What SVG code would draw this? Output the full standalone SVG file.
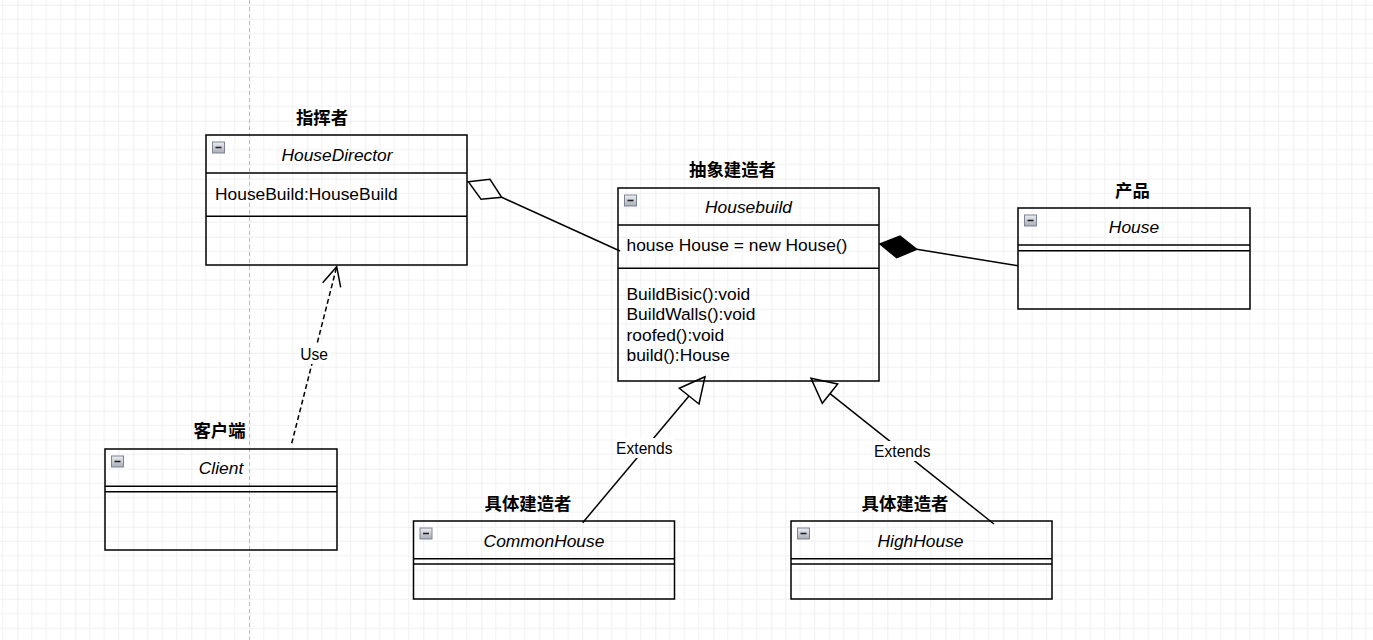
<svg xmlns="http://www.w3.org/2000/svg" width="1373" height="640" viewBox="0 0 1373 640">
<style>
.box{fill:none;stroke:#000;stroke-width:1.5}
.ln{fill:none;stroke:#000;stroke-width:1.5}
.title{font-family:"Liberation Sans",Arial,sans-serif;font-size:17.4px;font-style:italic;text-anchor:middle;fill:#000}
.txt{font-family:"Liberation Sans",Arial,sans-serif;font-size:17.4px;fill:#000}
.cjk{font-family:"Liberation Sans","Noto Sans CJK SC",sans-serif;font-size:17.4px;font-weight:bold;text-anchor:middle;fill:#000}
.elab{font-family:"Liberation Sans",Arial,sans-serif;font-size:15.6px;text-anchor:middle;fill:#000}
.lbg{fill:#fff}
</style>
<defs>
<pattern id="grid" patternUnits="userSpaceOnUse" x="17.3" y="4.7" width="58" height="58">
<path d="M14.5 0V58M29 0V58M43.5 0V58M0 14.5H58M0 29H58M0 43.5H58" stroke="#f1f1f1" stroke-width="1" fill="none"/>
<path d="M0 0V58M0 0H58" stroke="#e0e0e0" stroke-width="1" fill="none"/>
</pattern>
<linearGradient id="ig" x1="0" y1="0" x2="0" y2="1">
<stop offset="0" stop-color="#eceef2"/>
<stop offset="1" stop-color="#a9adb5"/>
</linearGradient>
<g id="icon">
<rect x="0" y="0" width="12" height="11" fill="url(#ig)" stroke="#7d8593" stroke-width="1"/>
<path d="M3 5.5H9" stroke="#222" stroke-width="1.6"/>
</g>
</defs>
<rect x="0" y="0" width="1373" height="640" fill="#fff"/>
<rect x="0" y="0" width="1373" height="640" fill="url(#grid)"/>
<path d="M249.5 0V640" stroke="#bdbdbd" stroke-width="1" stroke-dasharray="4 3"/>

<g id="connectors">
<!-- aggregation HouseDirector - Housebuild -->
<path class="ln" d="M501.7 197.3L620 251"/>
<path class="ln" d="M468.3 181.7L490 179.3L501.7 197.3L481 199.3Z" fill="#fff"/>
<!-- composition Housebuild - House -->
<path class="ln" d="M916.7 249.3L1018 265.7"/>
<path d="M880 244L900 236L916.7 249.3L896.7 257.7Z" fill="#000" stroke="#000" stroke-width="1.5"/>
<!-- Use dependency -->
<path class="ln" d="M291.7 443.3L336.7 266.7" stroke-dasharray="5 3"/>
<path class="ln" d="M322.7 282.7L336.7 266.7L340.7 287.3"/>
<rect class="lbg" x="298" y="344" width="32" height="20"/>
<text class="elab" x="314" y="359.8">Use</text>
<!-- Extends 1 -->
<path class="ln" d="M582.7 522.7L689 396"/>
<path class="ln" d="M705 376.7L679.3 388.3L699 404Z" fill="#fff"/>
<rect class="lbg" x="615" y="438" width="59" height="20"/>
<text class="elab" x="644.3" y="453.8">Extends</text>
<!-- Extends 2 -->
<path class="ln" d="M994 524L830 393.7"/>
<path class="ln" d="M811 378.3L837.7 384L822.3 403.3Z" fill="#fff"/>
<rect class="lbg" x="873" y="441" width="59" height="20"/>
<text class="elab" x="902.3" y="456.5">Extends</text>
</g>

<g id="housedirector">
<text class="cjk" x="322" y="124">指挥者</text>
<rect class="box" x="206" y="135" width="261" height="130"/>
<path class="ln" d="M206 173H467M206 216.3H467"/>
<use href="#icon" x="212.5" y="142"/>
<text class="title" x="337" y="161">HouseDirector</text>
<text class="txt" x="215" y="199.5">HouseBuild:HouseBuild</text>
</g>

<g id="housebuild">
<text class="cjk" x="732.5" y="176">抽象建造者</text>
<rect class="box" x="618" y="188" width="261" height="193"/>
<path class="ln" d="M618 225H879M618 268.3H879"/>
<use href="#icon" x="624.5" y="195"/>
<text class="title" x="748.5" y="213">Housebuild</text>
<text class="txt" x="626.5" y="251">house House = new House()</text>
<text class="txt" x="626.5" y="300">BuildBisic():void</text>
<text class="txt" x="626.5" y="320.3">BuildWalls():void</text>
<text class="txt" x="626.5" y="340.6">roofed():void</text>
<text class="txt" x="626.5" y="360.9">build():House</text>
</g>

<g id="house">
<text class="cjk" x="1132.5" y="197">产品</text>
<rect class="box" x="1018" y="208" width="232" height="101"/>
<path class="ln" d="M1018 245H1250M1018 250.7H1250"/>
<use href="#icon" x="1024.5" y="215"/>
<text class="title" x="1134" y="233">House</text>
</g>

<g id="client">
<text class="cjk" x="219.5" y="437">客户端</text>
<rect class="box" x="105" y="449" width="232" height="101"/>
<path class="ln" d="M105 486.3H337M105 491.7H337"/>
<use href="#icon" x="111.5" y="456"/>
<text class="title" x="221" y="474">Client</text>
</g>

<g id="commonhouse">
<text class="cjk" x="528" y="509.5">具体建造者</text>
<rect class="box" x="413.5" y="521" width="261" height="78"/>
<path class="ln" d="M413.5 558.7H674.5M413.5 564H674.5"/>
<use href="#icon" x="420" y="528"/>
<text class="title" x="544" y="547">CommonHouse</text>
</g>

<g id="highhouse">
<text class="cjk" x="905" y="509.5">具体建造者</text>
<rect class="box" x="791" y="521" width="261" height="78"/>
<path class="ln" d="M791 558.7H1052M791 564H1052"/>
<use href="#icon" x="797.5" y="528"/>
<text class="title" x="920.5" y="547">HighHouse</text>
</g>
</svg>
